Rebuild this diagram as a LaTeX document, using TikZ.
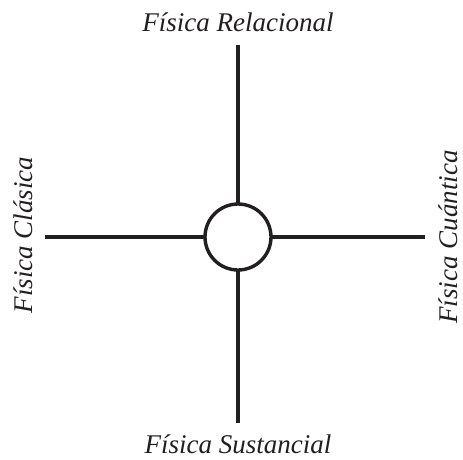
\documentclass[tikz,border=0pt]{standalone}
\usepackage{fontspec}
\setmainfont{Liberation Serif}
\usepackage{tikz}
\usetikzlibrary{positioning, calc}
\definecolor{inkgray}{RGB}{34,31,32}
\tikzset{
  hubnode/.style={circle,draw=inkgray,line width=3.4pt,fill=white,minimum size=66pt,inner sep=0pt},
  axisline/.style={draw=inkgray,line width=3.2pt},
  axislabel/.style={font=\fontsize{27}{32}\selectfont\itshape,text=inkgray,inner sep=0pt}
}
\begin{document}
\begin{tikzpicture}[x=1pt,y=-1pt]
  \useasboundingbox (0,0) rectangle (463,459);
  % ends of the axes
  \coordinate (top) at (238,45);
  \coordinate (bot) at (238,423);
  \coordinate (lft) at (45,237);
  \coordinate (rgt) at (425,237);

  \draw[axisline] (top) -- (bot);
  \draw[axisline] (lft) -- (rgt);
  \node[hubnode] (hub) at (238,237) {};

  \node[axislabel] (rel) at (238,22) {Física Relacional};
  \node[axislabel] (sus) at (238,444) {Física Sustancial};
  \node[axislabel,rotate=90] (cla) at (23,235) {Física Clásica};
  \node[axislabel,rotate=90] (cua) at (448,237) {Física Cuántica};
\end{tikzpicture}
\end{document}
